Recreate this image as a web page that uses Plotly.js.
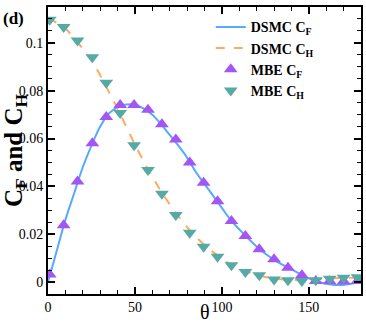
<!DOCTYPE html>
<html>
<head>
<meta charset="utf-8">
<script src="https://cdn.plot.ly/plotly-3.0.1.min.js"></script>
<style>
  html, body { margin: 0; padding: 0; background: #fff; }
  #chart { width: 366px; height: 325px; }
</style>
</head>
<body>
<div id="chart"></div>
<script>
// DSMC curves, sampled every 5 degrees
var dsmcTheta = [0, 5, 10, 15, 20, 25, 30, 35, 40, 45, 50, 55, 60, 65, 70, 75, 80, 85, 90,
    95, 100, 105, 110, 115, 120, 125, 130, 135, 140, 145, 150, 155, 160, 165, 170, 175, 180];
var dsmcCF = [0.000, 0.013, 0.026, 0.037, 0.048, 0.057, 0.065, 0.0705, 0.073, 0.0742, 0.0742,
    0.0725, 0.070, 0.066, 0.0615, 0.057, 0.052, 0.046, 0.041, 0.036, 0.031, 0.026, 0.022,
    0.0183, 0.0148, 0.0118, 0.0093, 0.0072, 0.0053, 0.0033, 0.0015, 0.0002, -0.0007,
    -0.0012, -0.0012, -0.0006, 0.0000];
var dsmcCH = [0.110, 0.1085, 0.106, 0.102, 0.0975, 0.0925, 0.0865, 0.0795, 0.0725, 0.065,
    0.0575, 0.0505, 0.044, 0.038, 0.0325, 0.0275, 0.023, 0.019, 0.0155, 0.0125, 0.0098,
    0.0075, 0.0057, 0.0042, 0.003, 0.0021, 0.0015, 0.0011, 0.0009, 0.0009, 0.001, 0.0012,
    0.0014, 0.0016, 0.0017, 0.0018, 0.0018];

// MBE points
var mbeTheta = [1, 9, 17, 25.5, 33.5, 41.5, 49.5, 57.5, 65.5, 73.5, 81.5, 89.5, 97.5, 105.5,
    113.5, 121.5, 130, 138, 146, 154, 162, 170, 178];
var mbeCF = [0.0032, 0.0237, 0.042, 0.058, 0.069, 0.074, 0.074, 0.072, 0.066, 0.0596, 0.050,
    0.0415, 0.0338, 0.0255, 0.0192, 0.0137, 0.0095, 0.006, 0.0028, 0.0004, 0.0003, 0.0003,
    0.0004];
var mbeCH = [0.1097, 0.1066, 0.101, 0.094, 0.0833, 0.0707, 0.0572, 0.0468, 0.0369, 0.028,
    0.0206, 0.0148, 0.0106, 0.007, 0.0042, 0.0028, 0.0011, 0.0007, 0.0004, 0.0008, 0.0014,
    0.0018, 0.002];

var serif = 'Liberation Serif, Times New Roman, serif';

var traces = [
    {
        x: dsmcTheta, y: dsmcCF, name: '<b>DSMC C<sub>F</sub></b>',
        type: 'scatter', mode: 'lines', line: {color: '#55aaff', width: 2, shape: 'spline'}
    },
    {
        x: dsmcTheta, y: dsmcCH, name: '<b>DSMC C<sub>H</sub></b>',
        type: 'scatter', mode: 'lines', line: {color: '#ffaa5e', width: 2, dash: 'dash', shape: 'spline'}
    },
    {
        x: mbeTheta, y: mbeCF, name: '<b>MBE C<sub>F</sub></b>',
        type: 'scatter', mode: 'markers',
        marker: {symbol: 'triangle-up', size: 12, color: '#a455f5'}
    },
    {
        x: mbeTheta, y: mbeCH, name: '<b>MBE C<sub>H</sub></b>',
        type: 'scatter', mode: 'markers',
        marker: {symbol: 'triangle-down', size: 12, color: '#55aaa5'}
    }
];

var axisCommon = {
    showline: true, linecolor: '#000', linewidth: 2, mirror: 'allticks',
    ticks: 'inside', ticklen: 7, tickwidth: 1.5, tickcolor: '#000',
    showgrid: false, zeroline: false,
    tickfont: {family: serif, size: 14, color: '#000'}
};

var layout = {
    width: 366, height: 325,
    margin: {l: 48, r: 5, t: 7, b: 31},
    paper_bgcolor: '#fff', plot_bgcolor: '#fff',
    showlegend: true,
    legend: {
        x: 0.52, y: 0.985, xanchor: 'left', yanchor: 'top',
        bgcolor: 'rgba(0,0,0,0)',
        font: {family: serif, size: 14, color: '#000'}
    },
    xaxis: Object.assign({}, axisCommon, {
        range: [0, 180], dtick: 50, tick0: 0, ticklabelstandoff: -1,
        minor: {ticks: 'inside', dtick: 10, ticklen: 4, tickcolor: '#000', tickwidth: 1}
    }),
    yaxis: Object.assign({}, axisCommon, {
        range: [-0.005, 0.115], dtick: 0.02, tick0: 0,
        minor: {ticks: 'inside', dtick: 0.005, ticklen: 4, tickcolor: '#000', tickwidth: 1},
        title: {text: '<b>C<sub>F</sub> and C<sub>H</sub></b>',
            font: {family: serif, size: 25, color: '#000'}, standoff: 2}
    }),
    annotations: [
        {
            text: '<b>(d)</b>', xref: 'paper', yref: 'paper', x: -0.15, y: 1.0,
            xanchor: 'left', yanchor: 'top', showarrow: false,
            font: {family: serif, size: 17, color: '#000'}
        },
        {
            text: 'θ', xref: 'paper', yref: 'paper', x: 0.5, y: -0.063,
            xanchor: 'center', yanchor: 'middle', showarrow: false, borderpad: 0,
            font: {family: serif, size: 20, color: '#000'}
        }
    ]
};

Plotly.newPlot('chart', traces, layout, {displayModeBar: false});
</script>
</body>
</html>
